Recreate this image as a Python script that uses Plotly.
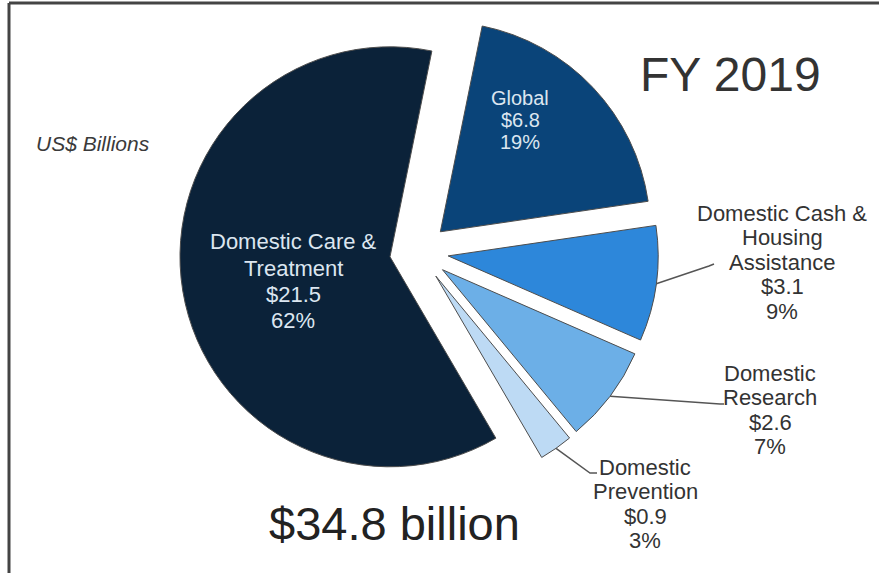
import math
import plotly.graph_objects as go

# ---- data ----
labels = ["Global", "Domestic Cash &<br>Housing<br>Assistance", "Domestic<br>Research",
          "Domestic<br>Prevention", "Domestic Care &<br>Treatment"]
values = [6.8, 3.1, 2.6, 0.9, 21.5]
pct_labels = ["19%", "9%", "7%", "3%", "62%"]
colors = ["#0a4479", "#2d87da", "#6cafe7", "#bddaf4", "#0b2239"]
total_label = "$34.8 billion"
year_label = "FY 2019"
unit_label = "US$ Billions"

W, H = 879, 573
CX, CY, R = 419, 252, 210      # pie centre / radius in pixels
PULL = 0.14
ROT = 11.5

def px(x):
    return x / W

def py(y):
    return 1 - y / H

box = 2 * R * (1 + PULL)
fig = go.Figure(go.Pie(
    values=values,
    labels=[l.replace("<br>", " ") for l in labels],
    marker=dict(colors=colors, line=dict(color="#4d4d4d", width=1)),
    sort=False,
    direction="clockwise",
    rotation=ROT,
    pull=[PULL] * len(values),
    textinfo="none",
    hoverinfo="label+value",
    showlegend=False,
    domain=dict(x=[px(CX - box / 2), px(CX + box / 2)],
                y=[py(CY + box / 2), py(CY - box / 2)]),
))

total = sum(values)

def mid_point(i, extra=0.0):
    before = sum(values[:i])
    ang = math.radians(ROT + 360 * (before + values[i] / 2) / total)
    d = R * (1 + PULL) + extra
    return CX + d * math.sin(ang), CY - d * math.cos(ang)

FONT = "Liberation Sans, Arial, sans-serif"
annotations = []
shapes = []

def label_lines(i):
    return labels[i].split("<br>") + [f"${values[i]}", pct_labels[i]]

def add_block(lines, x, yc, size, spacing, color):
    n = len(lines)
    for k, t in enumerate(lines):
        y = yc + (k - (n - 1) / 2) * spacing
        annotations.append(dict(x=px(x), y=py(y), xref="paper", yref="paper",
                                xanchor="center", yanchor="middle",
                                text=t, showarrow=False,
                                font=dict(family=FONT, size=size, color=color)))

# inside labels: (x centre, y centre, font size, line spacing)
inside = {0: (520, 120, 20, 22.5), 4: (293, 281, 22, 26)}
for i, (x, y, s, sp) in inside.items():
    add_block(label_lines(i), x, y, s, sp, "#dce6f0")

# outside labels with leader lines
outside = {1: ((782, 262), [(709, 266), (714, 264)]),
           2: ((770, 410), [(720, 404), (724, 404)]),
           3: ((645, 504), [(590, 473), (597, 473)])}
for i, ((x, y), elbows) in outside.items():
    add_block(label_lines(i), x, y, 22, 24.5, "#333333")
    sx, sy = mid_point(i)
    pts = [(sx, sy)] + elbows
    path = "M " + " L ".join(f"{px(a)},{py(b)}" for a, b in pts)
    shapes.append(dict(type="path", path=path, xref="paper", yref="paper",
                       line=dict(color="#555555", width=1.5)))

for text, x, y, s, c in [(year_label, 730, 75, 48, "#333333"),
                         (total_label, 394, 523, 47, "#222222"),
                         (f"<i>{unit_label}</i>", 93, 143, 21, "#3a3a3a")]:
    annotations.append(dict(x=px(x), y=py(y), xref="paper", yref="paper",
                            xanchor="center", yanchor="middle",
                            text=text, showarrow=False,
                            font=dict(family=FONT, size=s, color=c)))

# frame (top and left edges)
shapes.append(dict(type="line", xref="paper", yref="paper",
                   x0=px(9), x1=1, y0=py(3), y1=py(3),
                   line=dict(color="#444444", width=3)))
shapes.append(dict(type="line", xref="paper", yref="paper",
                   x0=px(9), x1=px(9), y0=py(3), y1=0,
                   line=dict(color="#444444", width=3)))

fig.update_layout(width=W, height=H, margin=dict(l=0, r=0, t=0, b=0),
                  paper_bgcolor="white", plot_bgcolor="white",
                  annotations=annotations, shapes=shapes)

fig.write_html("out.html",
               config={"displayModeBar": False},
               post_script="document.body.style.margin='0';"
                           "document.body.style.overflow='hidden';")
